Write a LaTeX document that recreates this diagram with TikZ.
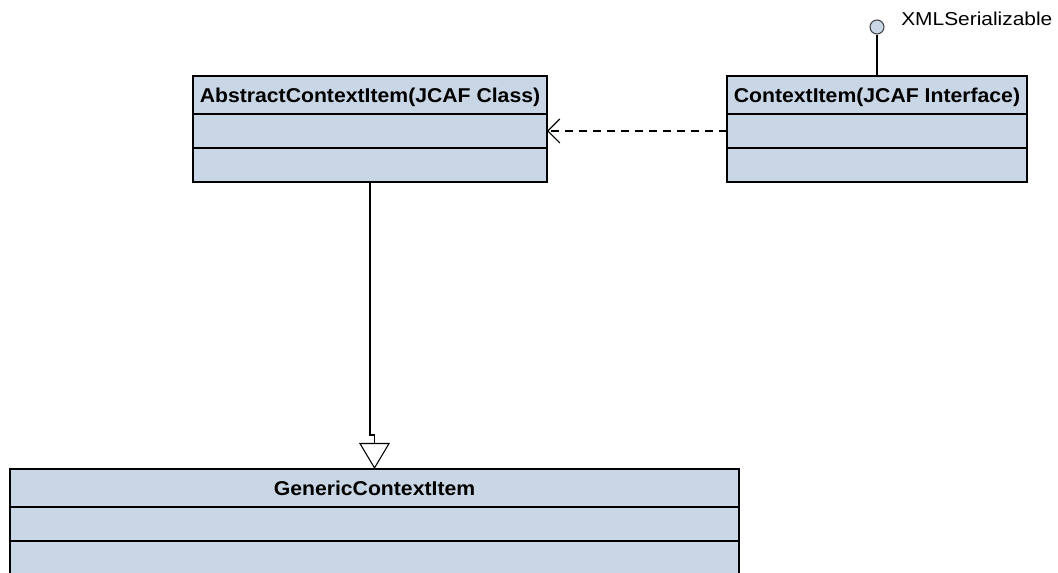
\documentclass[tikz,border=0pt]{standalone}
\usepackage{fontspec}
\usepackage{graphicx}
\setmainfont{Liberation Sans}
\usetikzlibrary{arrows.meta}

\definecolor{classfill}{RGB}{200,214,230}

% class title: bold sans, a little widened
\newcommand{\ctitle}[1]{\scalebox{1.06}[1]{\fontsize{15}{18}\selectfont\bfseries #1}}

\tikzset{
  compart/.style={draw=black, fill=classfill, line width=1.3pt, inner sep=0pt, outer sep=0pt, anchor=north},
  hdr/.style={compart, minimum height=28.5pt, text height=10.75pt, text depth=0pt},
  body/.style={compart, minimum height=25.5pt},
  link/.style={draw=black, line width=0.8pt},
  realize/.style={link, dash pattern=on 6pt off 4.5pt, -{Straight Barb[length=9pt,width=18pt,line width=0.8pt]}},
  inherit/.style={link, -{Triangle[open,length=19.5pt,width=23pt,line width=0.8pt]}},
}

\begin{document}
\begin{tikzpicture}[x=0.75pt,y=-0.75pt]
  \clip (0,0) rectangle (1058,573);

  % AbstractContextItem
  \node[hdr, minimum width=265.5pt] (abs) at (370,76) {\ctitle{AbstractContextItem(JCAF Class)}};
  \node[body, minimum width=265.5pt] (absA) at (abs.south) {};
  \node[body, minimum width=265.5pt] (absO) at (absA.south) {};

  % ContextItem interface
  \node[hdr, minimum width=225pt] (ctx) at (877,76) {\ctitle{ContextItem(JCAF Interface)}};
  \node[body, minimum width=225pt] (ctxA) at (ctx.south) {};
  \node[body, minimum width=225pt] (ctxO) at (ctxA.south) {};

  % GenericContextItem
  \node[hdr, minimum width=546.75pt] (gen) at (374.5,469) {\ctitle{GenericContextItem}};
  \node[body, minimum width=546.75pt] (genA) at (gen.south) {};
  \node[body, minimum width=546.75pt] (genO) at (genA.south) {};

  % provided interface (lollipop)
  \node[circle, draw=black!75, fill=classfill, line width=0.8pt, minimum size=10.5pt, inner sep=0pt] (xml) at (877,27) {};
  \node[anchor=west, inner sep=0pt, text height=10pt, text depth=0pt] (xmllbl) at (901,19)
    {\scalebox{1.12}[1]{\fontsize{14}{17}\selectfont XMLSerializable}};
  \draw[link] (xml.south) -- (ctx.north);

  % relations
  \draw[realize] (ctxA.west) -- (absA.east);
  \draw[inherit] (absO.south) -- ++(0,253) -| (gen.north);
\end{tikzpicture}
\end{document}
